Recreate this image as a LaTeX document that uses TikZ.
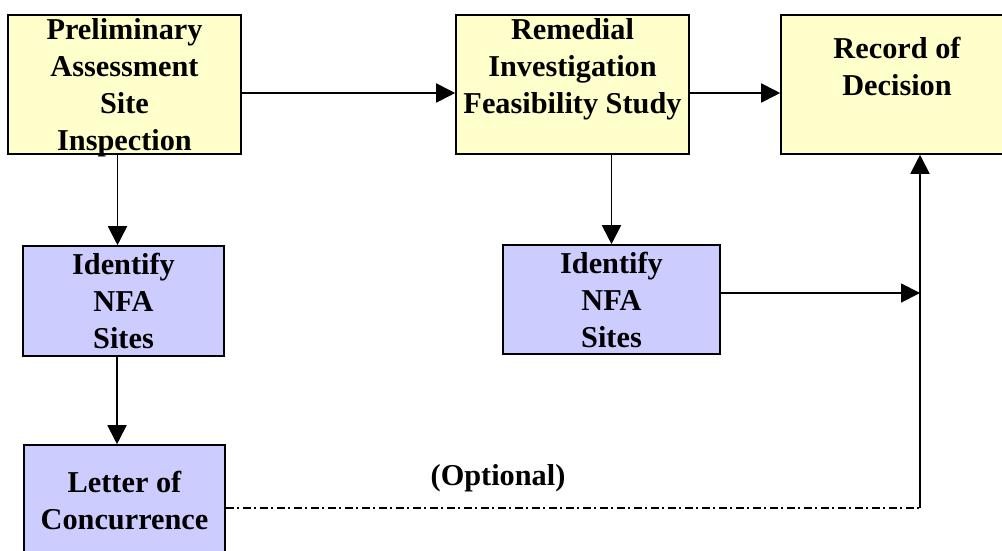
\documentclass[tikz,border=0pt]{standalone}
\usepackage{fontspec}
\setmainfont{Liberation Serif}
\usetikzlibrary{arrows.meta}
\definecolor{boxyellow}{HTML}{FFFFCC}
\definecolor{boxblue}{HTML}{CCCCFF}
\begin{document}
\begin{tikzpicture}[x=1pt,y=1pt,
  txt/.style={font=\fontsize{30.3}{37}\selectfont\bfseries, align=center, inner sep=0pt},
  ybox/.style={draw=black, line width=1.6pt, fill=boxyellow, inner sep=0pt, txt},
  bbox/.style={draw=black, line width=1.6pt, fill=boxblue, inner sep=0pt, txt},
  conn/.style={line width=1.9pt, -{Triangle[length=19pt,width=19pt]}},
  dashdot/.style={line width=1.9pt, dash pattern=on 8pt off 3.5pt on 2pt off 3.5pt}
]
\useasboundingbox (0,0) rectangle (1002,550);
\clip (0,0) rectangle (1002,550);
% boxes
\node[ybox, minimum width=233pt, minimum height=139pt] (PA) at (124.5,465.5) {};
\node[txt] (PAt) at (124.5,462.5) {Preliminary\\Assessment\\Site\\Inspection};
\node[ybox, minimum width=233pt, minimum height=139pt] (RI) at (572.5,465.5) {};
\node[txt] (RIt) at (572.5,480.5) {Remedial\\Investigation\\Feasibility Study};
\node[ybox, minimum width=232pt, minimum height=139pt] (ROD) at (897,465.5) {};
\node[txt] (RODt) at (897,483.5) {Record of\\Decision};
\node[bbox, minimum width=201pt, minimum height=110pt] (NFA1) at (123.5,249)
  {Identify\\NFA\\Sites};
\node[bbox, minimum width=217pt, minimum height=109pt] (NFA2) at (611.5,250.5)
  {Identify\\NFA\\Sites};
\node[bbox, minimum width=201pt, minimum height=112pt] (LC) at (124.5,49)
  {Letter of\\Concurrence};
\node[txt] (opt) at (498,72) {(Optional)};
% junction coordinates
\coordinate (j) at (920,257);
\coordinate (k) at (920,42);
% connectors
\draw[conn] ([yshift=-8.5pt]PA.east) -- ([yshift=-8.5pt]RI.west);
\draw[conn] ([yshift=-8.5pt]RI.east) -- ([yshift=-8.5pt]ROD.west);
\draw[conn] ([xshift=-7pt]PA.south) -- ([xshift=-7pt]PA.south |- NFA1.north);
\draw[conn] ([xshift=-6.5pt]NFA1.south) -- ([xshift=-6.5pt]NFA1.south |- LC.north);
\draw[conn] (NFA2.north |- RI.south) -- (NFA2.north);
\draw[conn] (NFA2.east |- j) -- (j);
\draw[dashdot] (LC.east |- k) -- (k);
\draw[conn] (k) -- (k |- ROD.south);
\end{tikzpicture}
\end{document}
